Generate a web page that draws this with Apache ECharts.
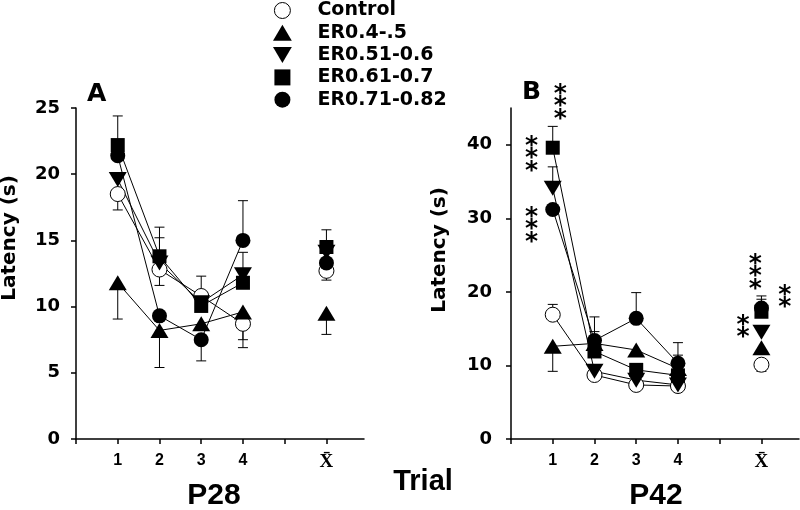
<!DOCTYPE html>
<html><head><meta charset="utf-8">
<script src="https://cdn.jsdelivr.net/npm/echarts@6/dist/echarts.min.js"></script>
<style>html,body{margin:0;padding:0;background:#fff}#c{width:800px;height:510px}</style>
</head><body><div id="c"></div>
<script>
// ---------- data ----------
const seriesNames = ['Control', 'ER0.4-.5', 'ER0.51-0.6', 'ER0.61-0.7', 'ER0.71-0.82'];
const xPositions = [1, 2, 3, 4, 6];           // trials 1-4, then the mean (X̄)
const xTickValues = [0, 1, 2, 3, 4, 5, 6];
const xLabelValues = [1, 2, 3, 4, 6];
const xTickLabels = ['1', '2', '3', '4', 'X\u0304'];
const yTicksA = [0, 5, 10, 15, 20, 25];
const yTicksB = [0, 10, 20, 30, 40];

// Panel A (P28) – latency means
const A_control = [18.5, 12.8, 10.8, 8.7, 12.7];
const A_er04 = [11.8, 8.2, 8.7, 9.6, 9.5];
const A_er051 = [19.6, 13.3, 10.3, 12.4, 14.1];
const A_er061 = [22.2, 13.8, 10.05, 11.8, 14.5];
const A_er071 = [21.4, 9.3, 7.5, 15.0, 13.3];
// Panel A – error bar end values (null = no bar drawn)
const A_control_err = [17.3, 11.6, 12.3, 6.9, 12.0];
const A_er04_err = [9.06, 5.4, null, 7.5, 7.9];
const A_er051_err = [null, 15.2, null, 14.1, null];
const A_er061_err = [24.4, 16.0, null, null, 15.8];
const A_er071_err = [null, null, 5.9, 18.0, null];

// Panel B (P42)
const B_control = [16.9, 8.7, 7.35, 7.2, 10.1];
const B_er04 = [12.6, 13.0, 12.1, 9.6, 12.4];
const B_er051 = [34.1, 9.2, 8.0, 7.35, 14.5];
const B_er061 = [39.6, 11.9, 9.4, 8.65, 17.3];
const B_er071 = [31.2, 13.4, 16.4, 10.3, 17.8];
const B_control_err = [18.3, null, null, null, 9.2];
const B_er04_err = [9.2, null, null, 11.4, null];
const B_er051_err = [37.0, null, null, null, null];
const B_er061_err = [42.5, 14.6, null, null, 19.0];
const B_er071_err = [null, 16.6, 19.9, 13.1, 19.45];

// significance marks (panel B)
const sigX = [0.49, 0.49, 1.18, 5.85, 6.56, 5.56];
const sigY = [38.9, 29.25, 46.0, 22.9, 19.5, 15.4];
const sigText = ['***', '***', '***', '***', '**', '**'];

// ---------- styling ----------
const markStyles = [
  { symbol: 'circle', symbolSize: 15, itemStyle: { color: '#fff', borderColor: '#000', borderWidth: 1, opacity: 1 } },
  { symbol: 'triangle', symbolSize: [18, 15], itemStyle: { color: '#000', opacity: 1 } },
  { symbol: 'triangle', symbolSize: [18, 15], symbolRotate: 180, itemStyle: { color: '#000', opacity: 1 } },
  { symbol: 'rect', symbolSize: 14, itemStyle: { color: '#000', opacity: 1 } },
  { symbol: 'circle', symbolSize: 15, itemStyle: { color: '#000', opacity: 1 } }
];
const legendIcons = ['circle', 'path://M10,0L20,17L0,17Z', 'path://M0,0L20,0L10,17Z',
                     'path://M0,0L10,0L10,10L0,10Z', 'circle'];

const panelA = [A_control, A_er04, A_er051, A_er061, A_er071];
const panelAErr = [A_control_err, A_er04_err, A_er051_err, A_er061_err, A_er071_err];
const panelB = [B_control, B_er04, B_er051, B_er061, B_er071];
const panelBErr = [B_control_err, B_er04_err, B_er051_err, B_er061_err, B_er071_err];

const series = [];
function addMarkers(vals, gi) {
  vals.forEach((v, i) => {
    series.push(Object.assign({
      type: 'scatter', name: seriesNames[i], xAxisIndex: gi, yAxisIndex: gi, z: 4,
      data: xPositions.map((x, k) => [x, v[k]])
    }, JSON.parse(JSON.stringify(markStyles[i]))));
  });
}
function addLines(vals, gi) {
  vals.forEach((v, i) => {
    series.push({
      type: 'line', name: seriesNames[i], xAxisIndex: gi, yAxisIndex: gi, z: 2,
      showSymbol: false, symbol: 'none', silent: true,
      lineStyle: { color: '#000', width: 1 },
      data: xPositions.slice(0, 4).map((x, k) => [x, v[k]])
    });
  });
}
function addErrors(vals, errs, gi) {
  const d = [];
  vals.forEach((v, i) => {
    errs[i].forEach((e, k) => { if (e != null) d.push([xPositions[k], v[k], e]); });
  });
  series.push({
    type: 'custom', xAxisIndex: gi, yAxisIndex: gi, z: 1, silent: true,
    encode: { x: 0, y: [1, 2] },
    data: d,
    renderItem(params, api) {
      const x = api.value(0), y = api.value(1), e = api.value(2);
      const p0 = api.coord([x, y]), p1 = api.coord([x, e]);
      const w = 5;
      return { type: 'group', children: [
        { type: 'line', shape: { x1: p0[0], y1: p0[1], x2: p1[0], y2: p1[1] }, style: { stroke: '#000', lineWidth: 1 } },
        { type: 'line', shape: { x1: p1[0] - w, y1: p1[1], x2: p1[0] + w, y2: p1[1] }, style: { stroke: '#000', lineWidth: 1 } }
      ] };
    }
  });
}
addMarkers(panelA, 0);
addMarkers(panelB, 1);
addLines(panelA, 0);
addLines(panelB, 1);
addErrors(panelA, panelAErr, 0);
addErrors(panelB, panelBErr, 1);
series.push({
  type: 'scatter', xAxisIndex: 1, yAxisIndex: 1, z: 5, clip: false, silent: true,
  symbolSize: 1, itemStyle: { color: 'rgba(0,0,0,0)', opacity: 1 },
  data: sigX.map((x, i) => ({ value: [x, sigY[i]], label: { formatter: sigText[i].split('').join('\n') } })),
  label: { show: true, position: 'inside', color: '#000', opacity: 1, fontFamily: 'DejaVu Sans', fontWeight: 'bold',
           fontSize: 25, lineHeight: 12.5, offset: [0, 6] }
});

const fontB = 'DejaVu Sans';
function xAxis(gi) {
  return {
    type: 'value', gridIndex: gi, min: 0, max: 6.9,
    splitLine: { show: false },
    axisLine: { lineStyle: { color: '#000', width: 1.5 } },
    axisTick: { customValues: xTickValues, length: 5, lineStyle: { color: '#000', width: 1.5 } },
    axisLabel: {
      customValues: xLabelValues, margin: 14, color: '#000',
      formatter: v => v === 6 ? '{m|' + xTickLabels[4] + '}' : xTickLabels[xLabelValues.indexOf(v)],
      rich: { m: { fontFamily: 'Liberation Serif', fontWeight: 'bold', fontSize: 19, color: '#000' } },
      fontFamily: 'Liberation Sans', fontWeight: 'bold', fontSize: 16
    }
  };
}
function yAxis(gi, max, ticks, margin) {
  return {
    type: 'value', gridIndex: gi, min: 0, max: max,
    splitLine: { show: false },
    axisLine: { show: true, lineStyle: { color: '#000', width: 1.5 } },
    axisTick: { show: true, customValues: ticks, length: 5, lineStyle: { color: '#000', width: 1.5 } },
    axisLabel: { customValues: ticks, margin: margin, color: '#000', fontFamily: fontB, fontWeight: 'bold', fontSize: 18 }
  };
}

const chart = echarts.init(document.getElementById('c'), null, { renderer: 'canvas' });
chart.setOption({
  animation: false,
  backgroundColor: '#fff',
  grid: [
    { left: 76, top: 108, width: 288, height: 331 },
    { left: 511, top: 108, width: 288, height: 331 }
  ],
  xAxis: [xAxis(0), xAxis(1)],
  yAxis: [yAxis(0, 25, yTicksA, 16), yAxis(1, 45, yTicksB, 19)],
  legend: {
    orient: 'vertical', left: 273, top: 1, padding: 0, itemWidth: 60, itemHeight: 16, itemGap: 3.3,
    selectedMode: false, symbolKeepAspect: true,
    textStyle: { fontFamily: fontB, fontWeight: 'bold', fontSize: 19, lineHeight: 19, color: '#000' },
    data: seriesNames.map((n, i) => ({ name: n, icon: legendIcons[i], itemStyle: markStyles[i].itemStyle }))
  },
  graphic: [
    { type: 'text', left: 87, top: 82, style: { text: 'A', font: 'bold 25px "DejaVu Sans"', fill: '#000' } },
    { type: 'text', left: 522, top: 80, style: { text: 'B', font: 'bold 25px "DejaVu Sans"', fill: '#000' } },
    { type: 'text', x: 10, y: 238, rotation: Math.PI / 2,
      style: { text: 'Latency (s)', font: 'bold 20px "DejaVu Sans"', fill: '#000', align: 'center', verticalAlign: 'middle' } },
    { type: 'text', x: 440, y: 250, rotation: Math.PI / 2,
      style: { text: 'Latency (s)', font: 'bold 20px "DejaVu Sans"', fill: '#000', align: 'center', verticalAlign: 'middle' } },
    { type: 'text', x: 423, y: 482,
      style: { text: 'Trial', font: 'bold 29px "Liberation Sans"', fill: '#000', align: 'center', verticalAlign: 'middle' } },
    { type: 'text', x: 214, y: 496,
      style: { text: 'P28', font: 'bold 30px "Liberation Sans"', fill: '#000', align: 'center', verticalAlign: 'middle' } },
    { type: 'text', x: 656, y: 496,
      style: { text: 'P42', font: 'bold 30px "Liberation Sans"', fill: '#000', align: 'center', verticalAlign: 'middle' } }
  ],
  series: series
});
</script></body></html>
